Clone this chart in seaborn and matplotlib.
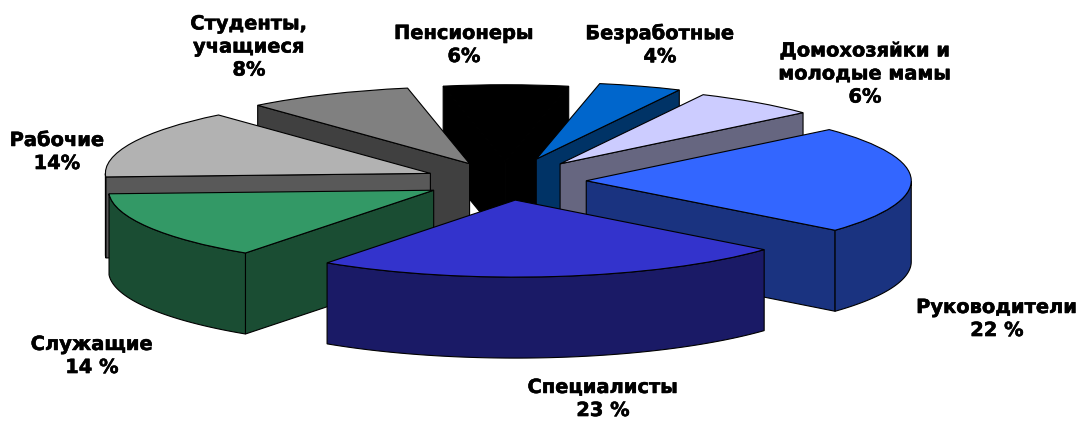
import numpy as np
import matplotlib
matplotlib.use('Agg')
import matplotlib.pyplot as plt
import matplotlib.patheffects as pe
import seaborn as sns

# clockwise from the top of the pie
names = ['Пенсионеры', 'Безработные', 'Домохозяйки и\nмолодые мамы', 'Руководители',
         'Специалисты', 'Служащие', 'Рабочие', 'Студенты,\nучащиеся']
values = [6, 4, 6, 22, 23, 14, 14, 8]
pct_text = ['6%', '4%', '6%', '22 %', '23 %', '14 %', '14%', '8%']
top_colors = ['#000000', '#0066CC', '#CCCCFF', '#3366FF', '#3333CC', '#339966', '#B2B2B2', '#808080']
side_colors = ['#000000', '#003366', '#666680', '#1A3380', '#1A1A66', '#1A4D33', '#595959', '#404040']
explode = [0.25, 0.30, 0.28, 0.25, 0.25, 0.25, 0.25, 0.25]

# centre of each label in image pixels
label_x = [464, 660, 865, 997, 603, 92, 57, 249]
label_y = [45, 45, 74, 319, 399, 356, 152, 47]

W, H = 1079, 421
CX, CY = 505, 181
RX, RY = 325, 77
DEPTH = 81 / RY

sns.set_theme(style='white')
plt.rcParams['font.family'] = ['DejaVu Sans']

fig = plt.figure(figsize=(W / 100, H / 100), dpi=100)
ax = fig.add_axes([0, 0, 1, 1])
wedges, _ = ax.pie(values, explode=explode, startangle=101, counterclock=False,
                   colors=sns.color_palette(top_colors), radius=1,
                   wedgeprops={'edgecolor': 'black', 'linewidth': 0.8})
ax.set_aspect('auto')
ax.set_xlim(-CX / RX, (W - CX) / RX)
ax.set_ylim(-(H - CY) / RY, CY / RY)
ax.axis('off')


def draw_sides(w, color, z):
    cx, cy = w.center
    t1, t2 = w.theta1, w.theta2
    # radial faces looking at the viewer
    for t, normal in [(t1, t1 - 90), (t2, t2 + 90)]:
        if np.sin(np.radians(normal)) < 0:
            ex = cx + np.cos(np.radians(t))
            ey = cy + np.sin(np.radians(t))
            ax.fill([cx, ex, ex, cx], [cy, ey, ey - DEPTH, cy - DEPTH],
                    facecolor=color, edgecolor='black', linewidth=0.8, zorder=z)
    # outer wall, only the front part of the arc
    ts = np.linspace(t1, t2, 120)
    ts = ts[np.sin(np.radians(ts)) <= 0]
    if len(ts) > 1:
        xs = cx + np.cos(np.radians(ts))
        ys = cy + np.sin(np.radians(ts))
        ax.fill(np.r_[xs, xs[::-1]], np.r_[ys, ys[::-1] - DEPTH],
                facecolor=color, edgecolor='black', linewidth=0.8, zorder=z)


# back slices first so the front ones cover them
mids = [np.sin(np.radians((w.theta1 + w.theta2) / 2)) for w in wedges]
for rank, i in enumerate(np.argsort(mids)[::-1]):
    draw_sides(wedges[i], side_colors[i], 10 + rank * 2)
    wedges[i].set_zorder(11 + rank * 2)

for name, pct, lx, ly in zip(names, pct_text, label_x, label_y):
    ax.text(lx / W, 1 - ly / H, name + '\n' + pct, transform=fig.transFigure, ha='center', va='center',
            fontsize=14, fontweight='bold', color='black', linespacing=1.27, zorder=50,
            path_effects=[pe.withStroke(linewidth=0.4, foreground='black')])

fig.savefig('out.png', dpi=100, facecolor='white')
